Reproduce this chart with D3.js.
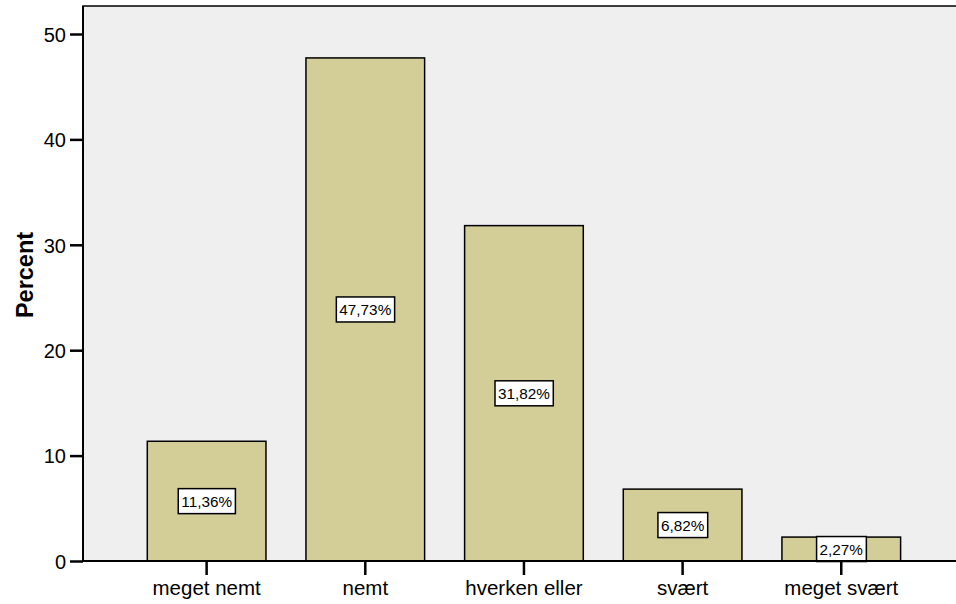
<!DOCTYPE html>
<meta charset="utf-8">
<title>Percent by difficulty</title>
<script src="https://d3js.org/d3.v7.min.js"></script>
<style>
  body { margin: 0; background: #fff; }
  text { font-family: "Liberation Sans", Arial, sans-serif; fill: #000; }
</style>
<div id="chart"></div>
<script>
  const categories = ["meget nemt", "nemt", "hverken eller", "svært", "meget svært"];
  const percents = [11.36, 47.73, 31.82, 6.82, 2.27];
  const yTicks = [0, 10, 20, 30, 40, 50];

  const W = 956, H = 604;
  const plot = { left: 83, top: 6, right: 970, bottom: 561 };

  const svg = d3.select("#chart").append("svg")
    .attr("width", W)
    .attr("height", H);

  // plot background
  svg.append("rect")
    .attr("x", plot.left)
    .attr("y", plot.top)
    .attr("width", plot.right - plot.left)
    .attr("height", plot.bottom - plot.top)
    .attr("fill", "#efefef")
    .attr("stroke", "#000")
    .attr("stroke-width", 1.5);

  const x = d3.scaleBand()
    .domain(categories)
    .range([127.3, 920.6])
    .paddingInner(0.252)
    .paddingOuter(0.126);

  const y = d3.scaleLinear()
    .domain([0, 50])
    .range([plot.bottom, plot.bottom - 527]);

  const data = categories.map((c, i) => ({ cat: c, value: percents[i] }));

  svg.selectAll("rect.bar")
    .data(data)
    .join("rect")
    .attr("class", "bar")
    .attr("x", d => x(d.cat))
    .attr("y", d => y(d.value))
    .attr("width", x.bandwidth())
    .attr("height", d => y(0) - y(d.value))
    .attr("fill", "#d3ce97")
    .attr("stroke", "#000")
    .attr("stroke-width", 1.5);

  // value labels
  const fmt = v => d3.format(".2f")(v).replace(".", ",") + "%";
  const lab = svg.selectAll("g.lab")
    .data(data)
    .join("g")
    .attr("class", "lab")
    .attr("transform", d => `translate(${x(d.cat) + x.bandwidth() / 2},${(y(d.value) + y(0)) / 2})`);

  lab.append("text")
    .attr("text-anchor", "middle")
    .attr("dy", "0.36em")
    .style("font-size", "15.3px")
    .text(d => fmt(d.value));

  lab.each(function () {
    const g = d3.select(this);
    const bb = g.select("text").node().getBBox();
    g.insert("rect", "text")
      .attr("x", bb.x - 3)
      .attr("y", -12.5)
      .attr("width", bb.width + 6)
      .attr("height", 25)
      .attr("fill", "#fff")
      .attr("stroke", "#000")
      .attr("stroke-width", 1.5);
  });

  // y axis
  const yAxis = svg.append("g")
    .attr("transform", `translate(${plot.left},0)`)
    .call(d3.axisLeft(y).tickValues(yTicks).tickSize(13).tickPadding(4));
  yAxis.select(".domain").attr("stroke-width", 2).attr("d", `M0,${plot.top}V${plot.bottom}`);
  yAxis.selectAll(".tick line").attr("stroke-width", 2.5);
  yAxis.selectAll(".tick text").style("font-size", "20px").attr("dy", "0.36em");

  // x axis
  const xAxis = svg.append("g")
    .attr("transform", `translate(0,${plot.bottom})`)
    .call(d3.axisBottom(x).tickSize(14).tickPadding(5));
  xAxis.select(".domain").attr("stroke-width", 2).attr("d", `M${plot.left},0H${plot.right}`);
  xAxis.selectAll(".tick line").attr("stroke-width", 2.5);
  xAxis.selectAll(".tick text").style("font-size", "20.5px");

  svg.append("text")
    .attr("transform", "translate(33,275) rotate(-90)")
    .attr("text-anchor", "middle")
    .style("font-size", "23.5px")
    .style("font-weight", "bold")
    .text("Percent");
</script>
